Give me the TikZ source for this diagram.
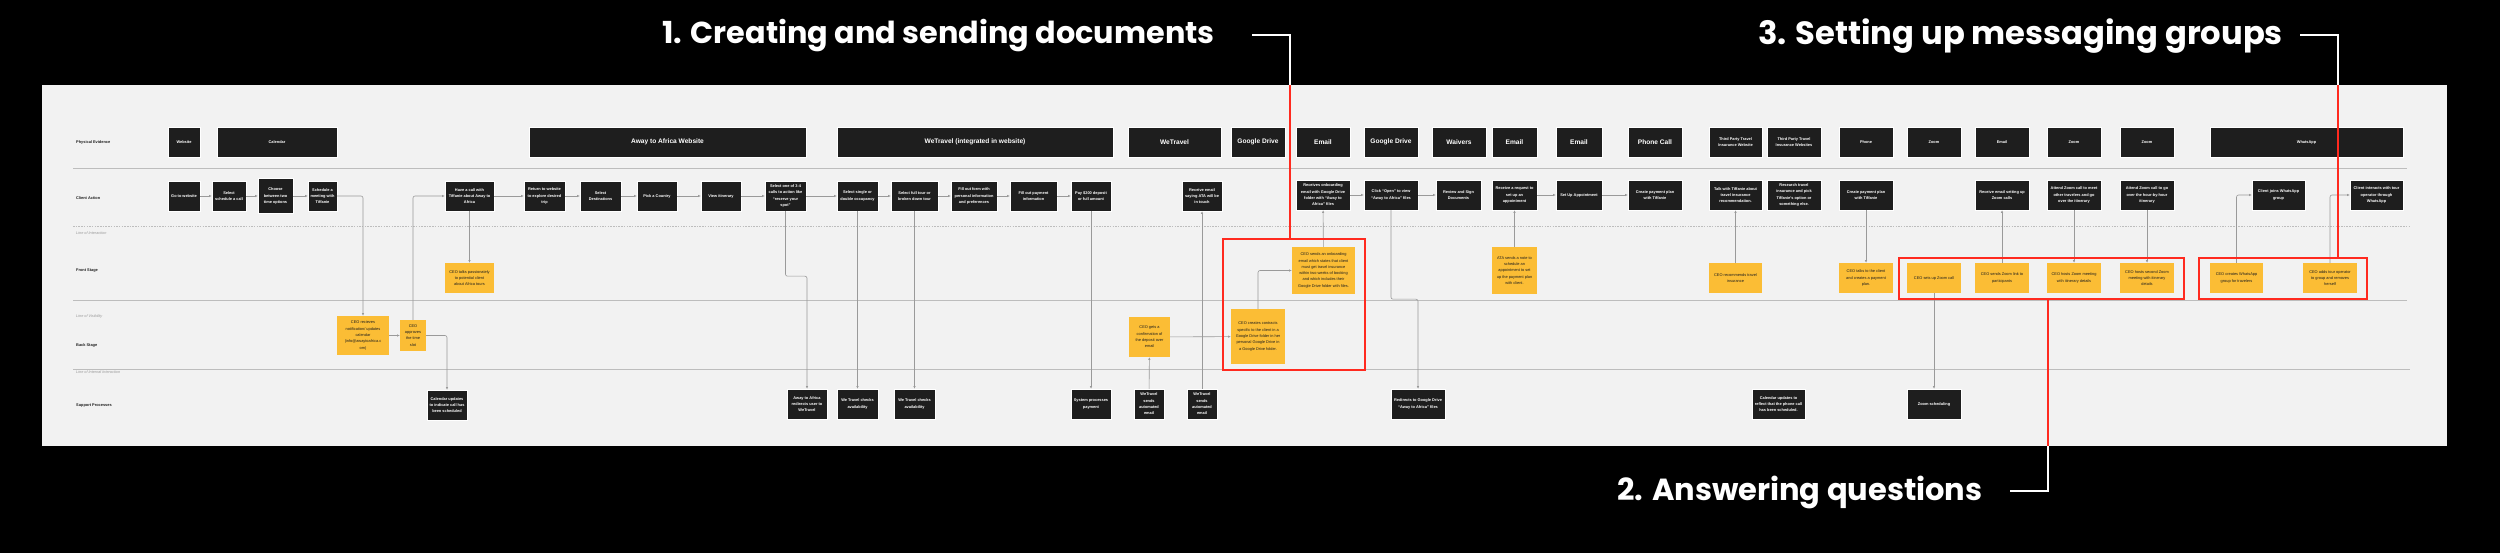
\documentclass[tikz,border=0pt]{standalone}
\usepackage{fontspec}
\setmainfont{Liberation Sans}
\newfontfamily\popfont{Poppins}
\usetikzlibrary{arrows.meta}
\definecolor{dkc}{HTML}{1E1E1E}
\definecolor{ylc}{HTML}{FBBD35}
\definecolor{txc}{HTML}{1E1E1E}
\definecolor{panelc}{HTML}{F2F2F2}
\definecolor{lnc}{HTML}{9A9A9A}
\definecolor{sepc}{HTML}{BDBDBD}
\definecolor{redc}{HTML}{FF2A1F}
\newcommand\bx[6]{\pgfmathsetmacro\bxw{#4-#3}\pgfmathsetmacro\bxc{(#3+#4)/2}\node[#1,minimum width=\bxw pt] (#2) at (\bxc,#5) {#6};}
\tikzset{
 dk/.style={draw=white, line width=0.4pt, fill=dkc, text=white, font=\fontsize{3.9}{6.3}\selectfont\bfseries, align=center, inner sep=0pt, minimum height=30pt},
 pebig/.style={dk, font=\fontsize{6.6}{8}\selectfont\bfseries},
 yl/.style={fill=ylc, text=txc, font=\fontsize{3.9}{6.3}\selectfont, align=center, inner sep=0pt, minimum height=30pt},
 conn/.style={draw=lnc, line width=0.6pt, rounded corners=2pt, -{Latex[length=2.6pt,width=2.4pt]}},
 sepline/.style={draw=sepc, line width=1pt},
 sepdash/.style={draw=sepc, line width=0.8pt, dash pattern=on 1.5pt off 1.2pt},
 rowlab/.style={anchor=west, font=\fontsize{3.9}{5}\selectfont\bfseries, text=txc, inner sep=0pt},
 linelab/.style={anchor=west, font=\fontsize{3.8}{5}\selectfont\itshape, text=lnc, inner sep=0pt},
 hd/.style={font=\popfont\bfseries\fontsize{#1}{#1}\selectfont, text=white, inner sep=0pt},
 redbox/.style={draw=redc, line width=1.6pt},
 redline/.style={draw=redc, line width=1.6pt},
 whiteline/.style={draw=white, line width=1.4pt},
}
\begin{document}
\begin{tikzpicture}[x=1pt,y=-1pt]
\fill[black] (0,0) rectangle (2500,553);
\useasboundingbox (0,0) rectangle (2500,553);
\fill[panelc] (42,85) rectangle (2447,446);

% separators
\draw[sepline] (73,169) -- (2407,169);
\draw[sepdash] (73,226) -- (2409,226);
\draw[sepline] (73,301) -- (2407,301);
\draw[sepline] (73,369) -- (2410,369);

% row labels
\node[rowlab] (lpe) at (76,142) {Physical Evidence};
\node[rowlab] (lca) at (76,198) {Client Action};
\node[linelab] (lli) at (76,233) {Line of Interaction};
\node[rowlab] (lfs) at (76,271) {Front Stage};
\node[linelab] (llv) at (76,317) {Line of Visibility};
\node[rowlab] (lbs) at (76,345) {Back Stage};
\node[linelab] (llii) at (76,372) {Line of Internal Interaction};
\node[rowlab] (lsp) at (76,406) {Support Processes};

% physical evidence
\bx{dk}{pe1}{168}{200}{142}{Website}
\bx{dk}{pe2}{217}{337}{142}{Calendar}
\bx{pebig}{pe3}{529}{806}{142}{Away to Africa Website}
\bx{pebig}{pe4}{837}{1113}{142}{WeTravel (integrated in website)}
\bx{pebig}{pe5}{1128}{1221}{142}{WeTravel}
\bx{pebig}{pe6}{1231}{1285}{142}{Google Drive}
\bx{pebig}{pe7}{1296}{1350}{142}{Email}
\bx{pebig}{pe8}{1364}{1418}{142}{Google Drive}
\bx{pebig}{pe9}{1432}{1486}{142}{Waivers}
\bx{pebig}{pe10}{1492}{1537}{142}{Email}
\bx{pebig}{pe11}{1556}{1602}{142}{Email}
\bx{pebig}{pe12}{1628}{1682}{142}{Phone Call}
\bx{dk}{pe13}{1709}{1762}{142}{Third Party Travel\\Insurance Website}
\bx{dk}{pe14}{1767}{1821}{142}{Third Party Travel\\Insurance Websites}
\bx{dk}{pe15}{1839}{1893}{142}{Phone}
\bx{dk}{pe16}{1907}{1961}{142}{Zoom}
\bx{dk}{pe17}{1975}{2029}{142}{Email}
\bx{dk}{pe18}{2047}{2101}{142}{Zoom}
\bx{dk}{pe19}{2120}{2174}{142}{Zoom}
\bx{dk}{pe20}{2210}{2403}{142}{WhatsApp}

% client actions
\bx{dk}{c1}{168}{200}{196}{Go to website}
\bx{dk}{c2}{212}{246}{196}{Select\\schedule a call}
\bx{dk,minimum height=35pt}{c3}{258}{293}{196}{Choose\\between two\\time options}
\bx{dk}{c4}{308}{337}{196}{Schedule a\\meeting with\\Tiffanie}
\bx{dk}{c5}{445}{494}{196}{Have a call with\\Tiffanie about Away to\\Africa}
\bx{dk}{c6}{524}{565}{196}{Return to website\\to explore desired\\trip}
\bx{dk}{c7}{580}{621}{196}{Select\\Destinations}
\bx{dk}{c8}{637}{677}{196}{Pick a Country}
\bx{dk}{c9}{701}{741}{196}{View itinerary}
\bx{dk}{c10}{765}{806}{196}{Select one of 3-4\\calls to action like\\“reserve your\\spot”}
\bx{dk}{c11}{837}{878}{196}{Select single or\\double occupancy}
\bx{dk}{c12}{891}{938}{196}{Select full tour or\\broken down tour}
\bx{dk}{c13}{951}{997}{196}{Fill out form with\\personal information\\and preferences}
\bx{dk}{c14}{1010}{1057}{196}{Fill out payment\\information}
\bx{dk}{c15}{1071}{1111}{196}{Pay \$200 deposit\\or full amount}
\bx{dk}{c16}{1182}{1222}{196}{Receive email\\saying ATA will be\\in touch}
\bx{dk}{c17}{1296}{1350}{195}{Receives onboarding\\email with Google Drive\\folder with “Away to\\Africa” files}
\bx{dk}{c18}{1364}{1418}{195}{Click “Open” to view\\“Away to Africa” files}
\bx{dk}{c19}{1436}{1481}{195}{Review and Sign\\Documents}
\bx{dk}{c20}{1492}{1537}{195}{Receive a request to\\set up an\\appointment}
\bx{dk}{c21}{1556}{1602}{195}{Set Up Appointment}
\bx{dk}{c22}{1628}{1682}{195}{Create payment plan\\with Tiffanie}
\bx{dk}{c23}{1709}{1762}{195}{Talk with Tiffanie about\\travel insurance\\recommendation.}
\bx{dk}{c24}{1767}{1821}{195}{Research travel\\insurance and pick\\Tiffanie’s option or\\something else.}
\bx{dk}{c25}{1839}{1893}{195}{Create payment plan\\with Tiffanie}
\bx{dk}{c26}{1975}{2029}{195}{Receive email setting up\\Zoom calls}
\bx{dk}{c27}{2047}{2101}{195}{Attend Zoom call to meet\\other travelers and go\\over the itinerary}
\bx{dk}{c28}{2120}{2174}{195}{Attend Zoom call to go\\over the hour-by-hour\\itinerary}
\bx{dk}{c29}{2252}{2305}{195}{Client joins WhatsApp\\group}
\bx{dk}{c30}{2350}{2403}{195}{Client interacts with tour\\operator through\\WhatsApp}

% front stage
\bx{yl}{f1}{445}{494}{278}{CEO talks passionately\\to potential client\\about Africa tours}
\bx{yl,minimum height=47pt}{f2}{1292}{1355}{270.5}{CEO sends an onboarding\\email which states that client\\must get travel insurance\\within two weeks of booking\\and which includes their\\Google Drive folder with files.}
\bx{yl,minimum height=47pt}{f3}{1492}{1537}{270.5}{ATA sends a note to\\schedule an\\appointment to set\\up the payment plan\\with client.}
\bx{yl}{f4}{1709}{1762}{278}{CEO recommends travel\\insurance}
\bx{yl}{f5}{1839}{1893}{278}{CEO talks to the client\\and creates a payment\\plan.}
\bx{yl}{f6}{1907}{1961}{278}{CEO sets up Zoom call}
\bx{yl}{f7}{1975}{2029}{278}{CEO sends Zoom link to\\participants}
\bx{yl}{f8}{2047}{2101}{278}{CEO hosts Zoom meeting\\with itinerary details}
\bx{yl}{f9}{2120}{2174}{278}{CEO hosts second Zoom\\meeting with itinerary\\details}
\bx{yl}{f10}{2210}{2263}{278}{CEO creates WhatsApp\\group for travelers}
\bx{yl}{f11}{2303}{2357}{278}{CEO adds tour operator\\to group and removes\\herself}

% back stage
\bx{yl,minimum height=39pt}{b1}{337}{389}{335.5}{CEO recieves\\notification/ updates\\calendar\\(info@awaytoafrica.c\\om)}
\bx{yl,minimum height=31pt}{b2}{400}{426}{335.5}{CEO\\approves\\the time\\slot}
\bx{yl,minimum height=40pt}{b3}{1129}{1170}{337}{CEO gets a\\confirmation of\\the deposit over\\email}
\bx{yl,minimum height=55pt}{b4}{1231}{1285}{336.5}{CEO creates contracts\\specific to the client in a\\Google Drive folder in her\\personal Google Drive in\\a Google Drive folder.}

% support processes
\bx{dk}{s1}{427}{467}{405}{Calendar updates\\to indicate call has\\been scheduled}
\bx{dk}{s2}{787}{827}{404}{Away to Africa\\redirects user to\\WeTravel}
\bx{dk}{s3}{837}{878}{404}{We Travel checks\\availability}
\bx{dk}{s4}{894}{935}{404}{We Travel checks\\availability}
\bx{dk}{s5}{1071}{1111}{404}{System processes\\payment}
\bx{dk}{s6}{1134}{1164}{404}{WeTravel\\sends\\automated\\email}
\bx{dk}{s7}{1187}{1217}{404}{WeTravel\\sends\\automated\\email}
\bx{dk}{s8}{1391}{1445}{404}{Redirects to Google Drive\\“Away to Africa” files}
\bx{dk}{s9}{1752}{1805}{404}{Calendar updates to\\reflect that the phone call\\has been scheduled.}
\bx{dk}{s10}{1907}{1961}{404}{Zoom scheduling}

% connectors
\draw[conn] (c1) -- (c2);
\draw[conn] (c2) -- (c3);
\draw[conn] (c3) -- (c4);
\draw[conn] (c4.east) -| (b1.north);
\draw[conn] (b1) -- (b2);
\draw[conn] (b2.north) |- (c5.west);
\draw[conn] (c5) -- (f1);
\draw[conn] (b2.east) -| (s1.north);
\draw[conn] (c5) -- (c6);
\draw[conn] (c6) -- (c7);
\draw[conn] (c7) -- (c8);
\draw[conn] (c8) -- (c9);
\draw[conn] (c9) -- (c10);
\draw[conn] (c10) -- (c11);
\draw[conn] (c11) -- (c12);
\draw[conn] (c12) -- (c13);
\draw[conn] (c13) -- (c14);
\draw[conn] (c14) -- (c15);
\draw[conn] (c10.south) -- ++(0,65) -| (s2.north);
\draw[conn] (c11) -- (s3);
\draw[conn] (c12) -- (s4);
\draw[conn] (c15) -- (s5);
\draw[conn] (s6) -- (b3);
\draw[conn] (s7) -- (c16);
\draw[conn] (b3) -- (b4);
\draw[conn] (b4.north) |- (f2.west);
\draw[conn] (f2) -- (c17);
\draw[conn] (c17) -- (c18);
\draw[conn] (c18.south) -- ++(0,89) -| (s8.north);
\draw[conn] (c18) -- (c19);
\draw[conn] (f3) -- (c20);
\draw[conn] (c20) -- (c21);
\draw[conn] (c21) -- (c22);
\draw[conn] (f4) -- (c23);
\draw[conn] (c25) -- (f5);
\draw[conn] (f6) -- (s10);
\draw[conn] (f7) -- (c26);
\draw[conn] (c27) -- (f8);
\draw[conn] (c28) -- (f9);
\draw[conn] (f10.north) |- (c29.west);
\draw[conn] (f11.north) |- (c30.west);

% highlight boxes
\draw[redbox] (1223,239) rectangle (1365,370);
\draw[redbox] (1899,258) rectangle (2184,299);
\draw[redbox] (2199,258) rectangle (2367,299);

% headings
\node[hd=30.3, anchor=base] (h1) at (938.5,44) {1. Creating and sending documents};
\node[hd=32.2, anchor=base] (h3) at (2020.5,45) {3. Setting up messaging groups};
\node[hd=30.5, anchor=base] (h2) at (1800,500) {2. Answering questions};

\draw[whiteline] (1252,35) -| (1290,85);
\draw[redline] (1290,85) -- (1290,239);
\draw[whiteline] (2300,35) -| (2338,85);
\draw[redline] (2338,85) -- (2338,258);
\draw[whiteline] (2010,491) -| (2048,446);
\draw[redline] (2048,446) -- (2048,299);
\end{tikzpicture}
\end{document}
